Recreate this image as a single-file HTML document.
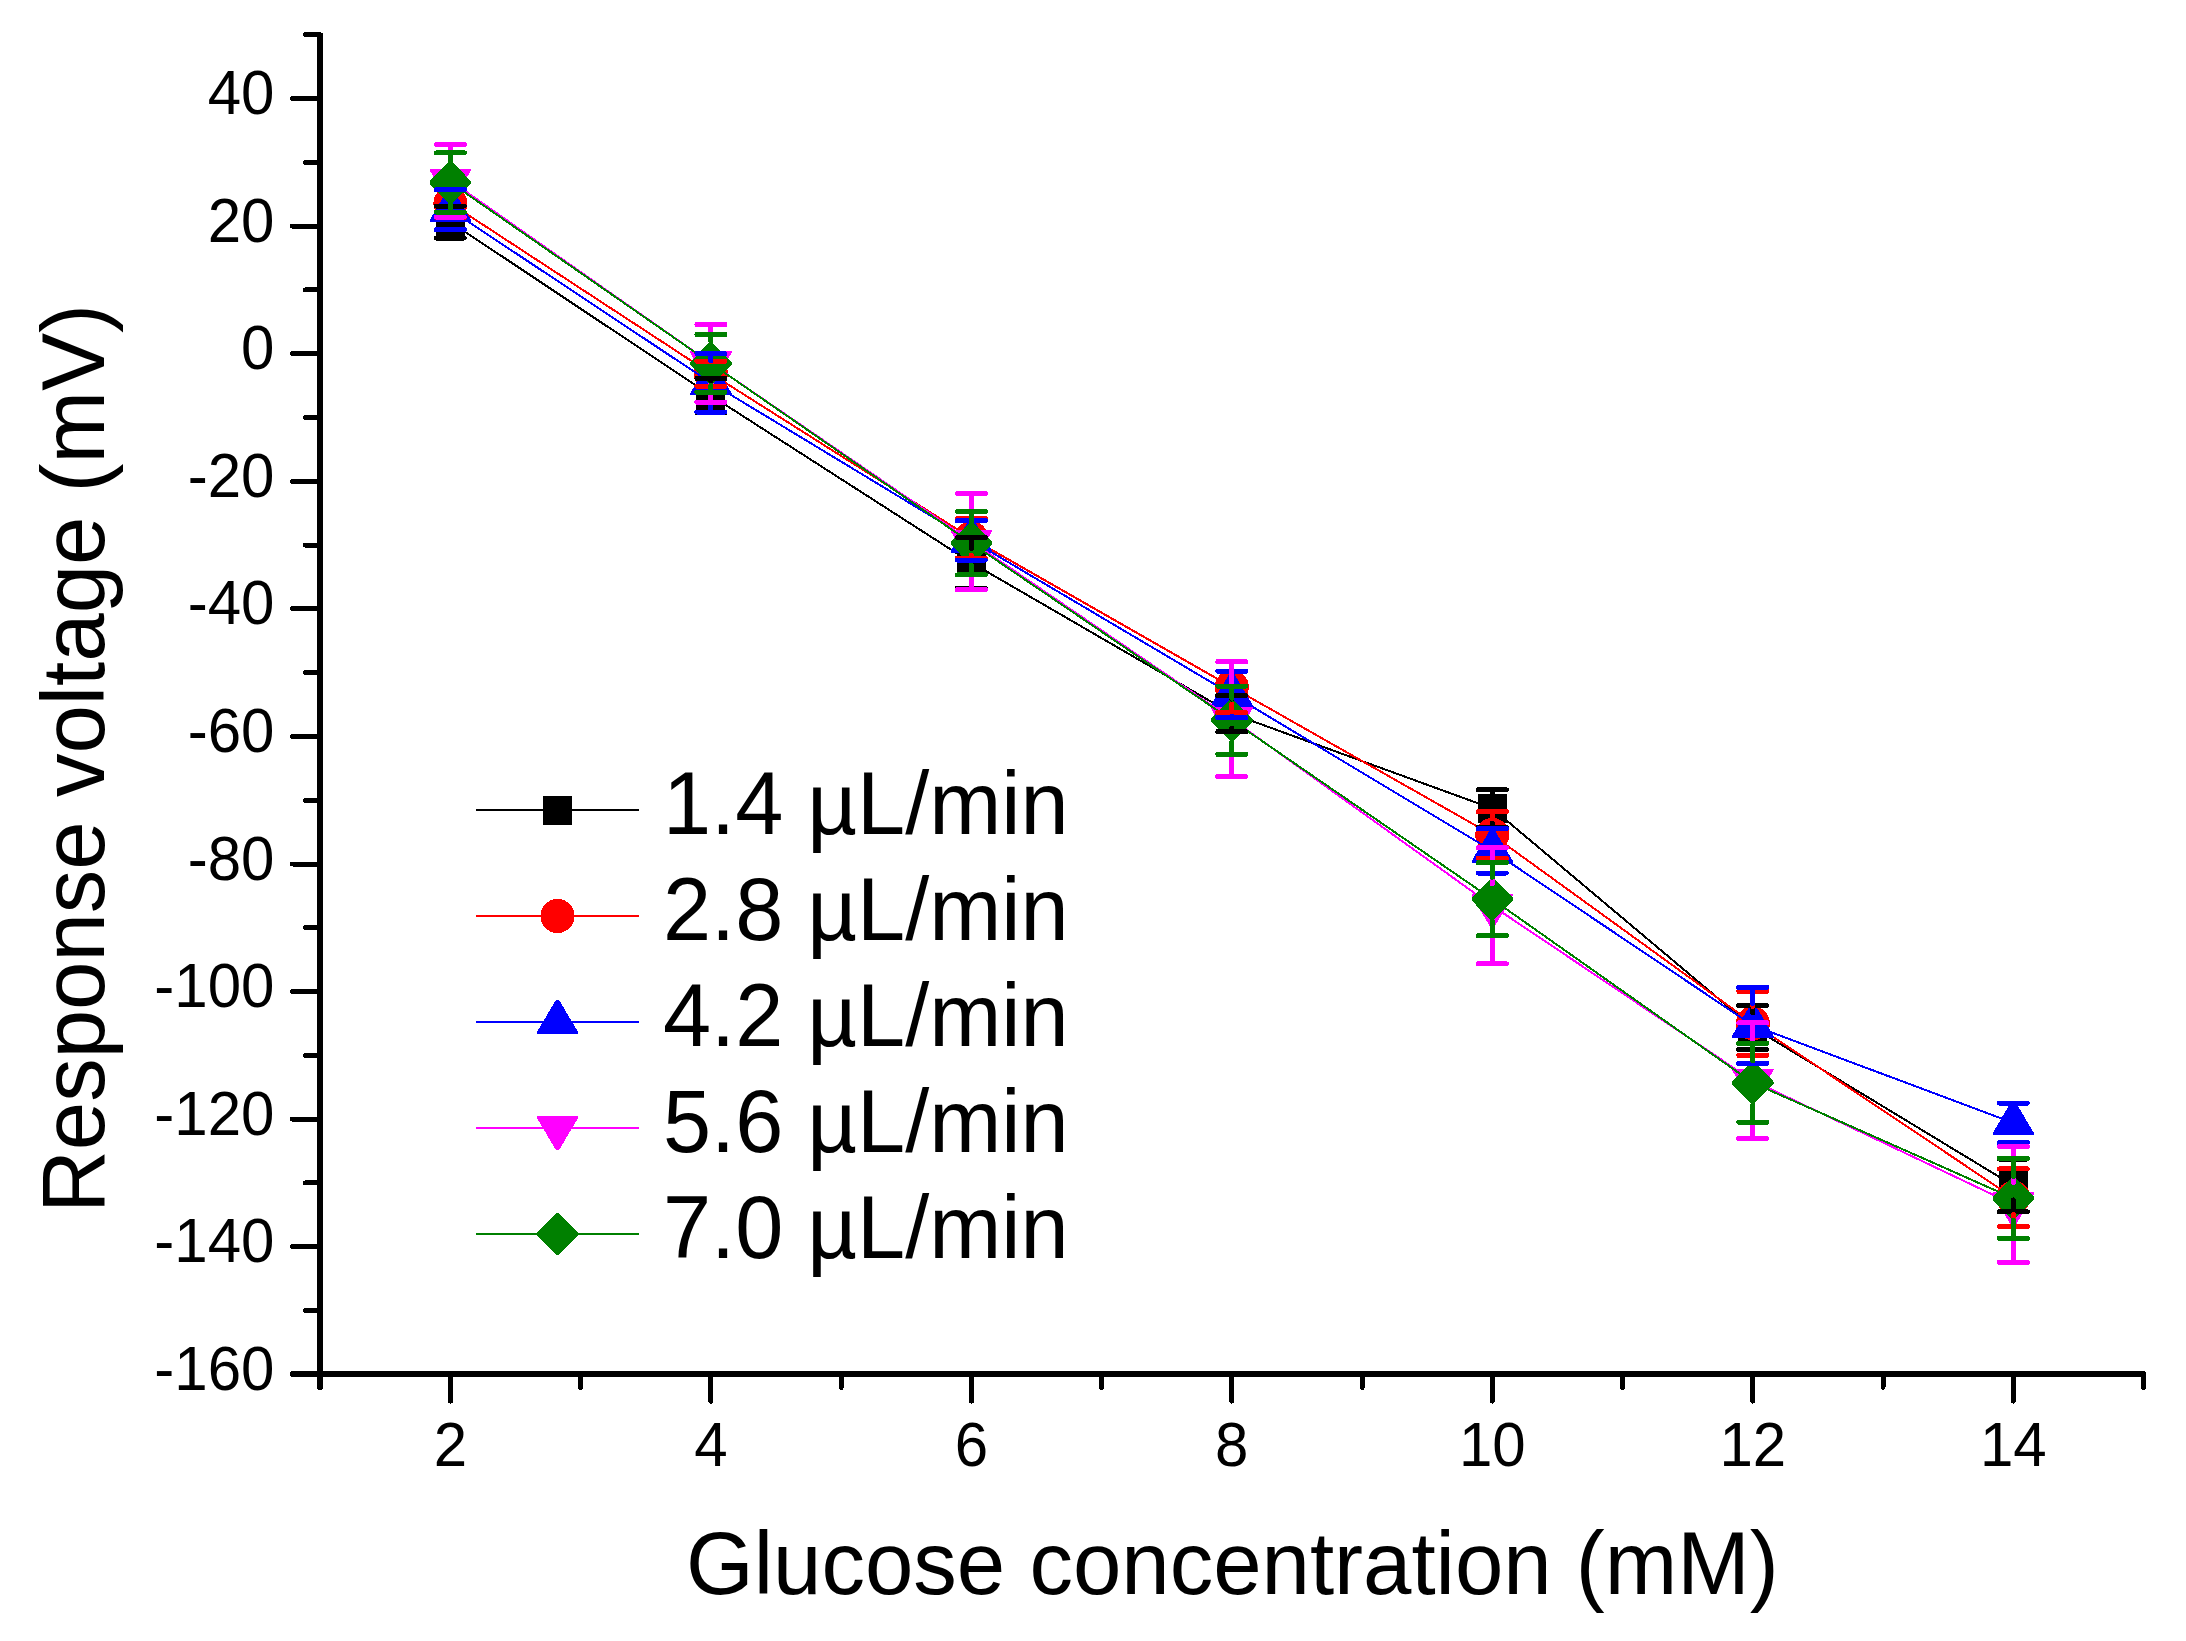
<!DOCTYPE html>
<html lang="en"><head><meta charset="utf-8"><title>Response voltage vs glucose concentration</title>
<style>html,body{margin:0;padding:0;background:#fff}svg{display:block}</style></head>
<body>
<svg width="2186" height="1641" viewBox="0 0 2186 1641" font-family="'Liberation Sans', sans-serif" fill="#000">
<rect width="2186" height="1641" fill="#fff"/>
<g stroke="#000" stroke-width="6" stroke-linecap="round" fill="none" shape-rendering="crispEdges">
<line x1="320.0" y1="35.3" x2="320.0" y2="1386.9"/>
<line x1="293" y1="1374.1" x2="2143.0" y2="1374.1"/>
</g>
<g stroke="#000" stroke-width="5" stroke-linecap="round" fill="none" shape-rendering="crispEdges">
<line x1="305.5" y1="34.8" x2="320.0" y2="34.8"/>
<line x1="292.5" y1="98.6" x2="320.0" y2="98.6"/>
<line x1="305.5" y1="162.3" x2="320.0" y2="162.3"/>
<line x1="292.5" y1="226.1" x2="320.0" y2="226.1"/>
<line x1="305.5" y1="289.9" x2="320.0" y2="289.9"/>
<line x1="292.5" y1="353.7" x2="320.0" y2="353.7"/>
<line x1="305.5" y1="417.5" x2="320.0" y2="417.5"/>
<line x1="292.5" y1="481.3" x2="320.0" y2="481.3"/>
<line x1="305.5" y1="545.1" x2="320.0" y2="545.1"/>
<line x1="292.5" y1="608.8" x2="320.0" y2="608.8"/>
<line x1="305.5" y1="672.6" x2="320.0" y2="672.6"/>
<line x1="292.5" y1="736.4" x2="320.0" y2="736.4"/>
<line x1="305.5" y1="800.2" x2="320.0" y2="800.2"/>
<line x1="292.5" y1="864.0" x2="320.0" y2="864.0"/>
<line x1="305.5" y1="927.8" x2="320.0" y2="927.8"/>
<line x1="292.5" y1="991.5" x2="320.0" y2="991.5"/>
<line x1="305.5" y1="1055.3" x2="320.0" y2="1055.3"/>
<line x1="292.5" y1="1119.1" x2="320.0" y2="1119.1"/>
<line x1="305.5" y1="1182.9" x2="320.0" y2="1182.9"/>
<line x1="292.5" y1="1246.7" x2="320.0" y2="1246.7"/>
<line x1="305.5" y1="1310.5" x2="320.0" y2="1310.5"/>
<line x1="450.4" y1="1374.1" x2="450.4" y2="1401.1"/>
<line x1="580.7" y1="1374.1" x2="580.7" y2="1387.4"/>
<line x1="710.9" y1="1374.1" x2="710.9" y2="1401.1"/>
<line x1="841.1" y1="1374.1" x2="841.1" y2="1387.4"/>
<line x1="971.4" y1="1374.1" x2="971.4" y2="1401.1"/>
<line x1="1101.6" y1="1374.1" x2="1101.6" y2="1387.4"/>
<line x1="1231.8" y1="1374.1" x2="1231.8" y2="1401.1"/>
<line x1="1362.1" y1="1374.1" x2="1362.1" y2="1387.4"/>
<line x1="1492.3" y1="1374.1" x2="1492.3" y2="1401.1"/>
<line x1="1622.6" y1="1374.1" x2="1622.6" y2="1387.4"/>
<line x1="1752.8" y1="1374.1" x2="1752.8" y2="1401.1"/>
<line x1="1883.0" y1="1374.1" x2="1883.0" y2="1387.4"/>
<line x1="2013.3" y1="1374.1" x2="2013.3" y2="1401.1"/>
<line x1="2143.5" y1="1374.1" x2="2143.5" y2="1387.4"/>
</g>
<g font-size="60" text-anchor="end">
<text transform="translate(274.4,114.2) scale(1,1.04)">40</text>
<text transform="translate(274.4,241.7) scale(1,1.04)">20</text>
<text transform="translate(274.4,369.3) scale(1,1.04)">0</text>
<text transform="translate(274.4,496.9) scale(1,1.04)">-20</text>
<text transform="translate(274.4,624.4) scale(1,1.04)">-40</text>
<text transform="translate(274.4,752.0) scale(1,1.04)">-60</text>
<text transform="translate(274.4,879.6) scale(1,1.04)">-80</text>
<text transform="translate(274.4,1007.1) scale(1,1.04)">-100</text>
<text transform="translate(274.4,1134.7) scale(1,1.04)">-120</text>
<text transform="translate(274.4,1262.3) scale(1,1.04)">-140</text>
<text transform="translate(274.4,1389.9) scale(1,1.04)">-160</text>
</g>
<g font-size="60" text-anchor="middle">
<text transform="translate(450.4,1466.3) scale(1,1.04)">2</text>
<text transform="translate(710.9,1466.3) scale(1,1.04)">4</text>
<text transform="translate(971.4,1466.3) scale(1,1.04)">6</text>
<text transform="translate(1231.8,1466.3) scale(1,1.04)">8</text>
<text transform="translate(1492.3,1466.3) scale(1,1.04)">10</text>
<text transform="translate(1752.8,1466.3) scale(1,1.04)">12</text>
<text transform="translate(2013.3,1466.3) scale(1,1.04)">14</text>
</g>
<text transform="translate(1232.4,1594.2) scale(1,1.02)" font-size="87" text-anchor="middle">Glucose concentration (mM)</text>
<text transform="translate(104.2,758.5) rotate(-90) scale(1,1.02)" font-size="87" text-anchor="middle">Response voltage (mV)</text>
<g shape-rendering="crispEdges">
<path d="M450.4,222.0 L710.9,395.5 L971.4,562.7 L1231.8,713.6 L1492.3,808.5 L1752.8,1027.5 L2013.3,1185.4" stroke="#000000" stroke-width="2" fill="none"/>
<rect x="435.9" y="207.5" width="29" height="29" fill="#000000"/>
<rect x="696.4" y="381.0" width="29" height="29" fill="#000000"/>
<rect x="956.9" y="548.2" width="29" height="29" fill="#000000"/>
<rect x="1217.3" y="699.1" width="29" height="29" fill="#000000"/>
<rect x="1477.8" y="794.0" width="29" height="29" fill="#000000"/>
<rect x="1738.3" y="1013.0" width="29" height="29" fill="#000000"/>
<rect x="1998.8" y="1170.9" width="29" height="29" fill="#000000"/>
<path d="M450.4,203.4 L710.9,373.6 L971.4,538.3 L1231.8,687.1 L1492.3,834.9 L1752.8,1023.3 L2013.3,1197.7" stroke="#ff0000" stroke-width="2" fill="none"/>
<circle cx="450.4" cy="203.4" r="17.05" fill="#ff0000"/>
<circle cx="710.9" cy="373.6" r="17.05" fill="#ff0000"/>
<circle cx="971.4" cy="538.3" r="17.05" fill="#ff0000"/>
<circle cx="1231.8" cy="687.1" r="17.05" fill="#ff0000"/>
<circle cx="1492.3" cy="834.9" r="17.05" fill="#ff0000"/>
<circle cx="1752.8" cy="1023.3" r="17.05" fill="#ff0000"/>
<circle cx="2013.3" cy="1197.7" r="17.05" fill="#ff0000"/>
<path d="M450.4,209.8 L710.9,382.8 L971.4,540.4 L1231.8,694.4 L1492.3,850.8 L1752.8,1025.4 L2013.3,1122.9" stroke="#0000ff" stroke-width="2" fill="none"/>
<polygon points="448.9,187.6 451.9,187.6 471.2,220.3 471.2,221.9 429.6,221.9 429.6,220.3" fill="#0000ff"/>
<polygon points="709.4,360.6 712.4,360.6 731.7,393.3 731.7,394.9 690.1,394.9 690.1,393.3" fill="#0000ff"/>
<polygon points="969.9,518.2 972.9,518.2 992.2,550.9 992.2,552.5 950.6,552.5 950.6,550.9" fill="#0000ff"/>
<polygon points="1230.3,672.2 1233.3,672.2 1252.6,704.9 1252.6,706.5 1211.0,706.5 1211.0,704.9" fill="#0000ff"/>
<polygon points="1490.8,828.6 1493.8,828.6 1513.1,861.3 1513.1,862.9 1471.5,862.9 1471.5,861.3" fill="#0000ff"/>
<polygon points="1751.3,1003.2 1754.3,1003.2 1773.6,1035.9 1773.6,1037.5 1732.0,1037.5 1732.0,1035.9" fill="#0000ff"/>
<polygon points="2011.8,1100.7 2014.8,1100.7 2034.1,1133.4 2034.1,1135.0 1992.5,1135.0 1992.5,1133.4" fill="#0000ff"/>
<path d="M450.4,180.7 L710.9,363.3 L971.4,541.6 L1231.8,719.1 L1492.3,905.8 L1752.8,1080.7 L2013.3,1204.4" stroke="#ff00ff" stroke-width="2" fill="none"/>
<polygon points="448.9,202.9 451.9,202.9 471.2,170.2 471.2,168.6 429.6,168.6 429.6,170.2" fill="#ff00ff"/>
<polygon points="709.4,385.5 712.4,385.5 731.7,352.8 731.7,351.2 690.1,351.2 690.1,352.8" fill="#ff00ff"/>
<polygon points="969.9,563.8 972.9,563.8 992.2,531.1 992.2,529.5 950.6,529.5 950.6,531.1" fill="#ff00ff"/>
<polygon points="1230.3,741.3 1233.3,741.3 1252.6,708.6 1252.6,707.0 1211.0,707.0 1211.0,708.6" fill="#ff00ff"/>
<polygon points="1490.8,928.0 1493.8,928.0 1513.1,895.3 1513.1,893.7 1471.5,893.7 1471.5,895.3" fill="#ff00ff"/>
<polygon points="1751.3,1102.9 1754.3,1102.9 1773.6,1070.2 1773.6,1068.6 1732.0,1068.6 1732.0,1070.2" fill="#ff00ff"/>
<polygon points="2011.8,1226.6 2014.8,1226.6 2034.1,1193.9 2034.1,1192.3 1992.5,1192.3 1992.5,1193.9" fill="#ff00ff"/>
<path d="M450.4,182.5 L710.9,363.3 L971.4,543.2 L1231.8,720.2 L1492.3,899.2 L1752.8,1082.8 L2013.3,1198.3" stroke="#008000" stroke-width="2" fill="none"/>
<polygon points="449.2,161.3 451.6,161.3 471.2,181.3 471.2,183.7 451.6,203.7 449.2,203.7 429.6,183.7 429.6,181.3" fill="#008000"/>
<polygon points="709.7,342.1 712.1,342.1 731.7,362.1 731.7,364.5 712.1,384.5 709.7,384.5 690.1,364.5 690.1,362.1" fill="#008000"/>
<polygon points="970.2,522.0 972.6,522.0 992.2,542.0 992.2,544.4 972.6,564.4 970.2,564.4 950.6,544.4 950.6,542.0" fill="#008000"/>
<polygon points="1230.6,699.0 1233.0,699.0 1252.6,719.0 1252.6,721.4 1233.0,741.4 1230.6,741.4 1211.0,721.4 1211.0,719.0" fill="#008000"/>
<polygon points="1491.1,878.0 1493.5,878.0 1513.1,898.0 1513.1,900.4 1493.5,920.4 1491.1,920.4 1471.5,900.4 1471.5,898.0" fill="#008000"/>
<polygon points="1751.6,1061.6 1754.0,1061.6 1773.6,1081.6 1773.6,1084.0 1754.0,1104.0 1751.6,1104.0 1732.0,1084.0 1732.0,1081.6" fill="#008000"/>
<polygon points="2012.1,1177.1 2014.5,1177.1 2034.1,1197.1 2034.1,1199.5 2014.5,1219.5 2012.1,1219.5 1992.5,1199.5 1992.5,1197.1" fill="#008000"/>
<g stroke="#000000" stroke-width="5" fill="none" stroke-linecap="round"><line x1="436.4" y1="206.0" x2="464.4" y2="206.0"/><line x1="436.4" y1="238.0" x2="464.4" y2="238.0"/><line x1="450.4" y1="206.0" x2="450.4" y2="207.5"/><line x1="450.4" y1="236.5" x2="450.4" y2="238.0"/><line x1="696.9" y1="378.5" x2="724.9" y2="378.5"/><line x1="696.9" y1="412.5" x2="724.9" y2="412.5"/><line x1="710.9" y1="378.5" x2="710.9" y2="381.0"/><line x1="710.9" y1="410.0" x2="710.9" y2="412.5"/><line x1="957.4" y1="537.4" x2="985.4" y2="537.4"/><line x1="957.4" y1="588.0" x2="985.4" y2="588.0"/><line x1="971.4" y1="537.4" x2="971.4" y2="548.2"/><line x1="971.4" y1="577.2" x2="971.4" y2="588.0"/><line x1="1217.8" y1="695.5" x2="1245.8" y2="695.5"/><line x1="1217.8" y1="731.7" x2="1245.8" y2="731.7"/><line x1="1231.8" y1="695.5" x2="1231.8" y2="699.1"/><line x1="1231.8" y1="728.1" x2="1231.8" y2="731.7"/><line x1="1478.3" y1="789.8" x2="1506.3" y2="789.8"/><line x1="1478.3" y1="827.2" x2="1506.3" y2="827.2"/><line x1="1492.3" y1="789.8" x2="1492.3" y2="794.0"/><line x1="1492.3" y1="823.0" x2="1492.3" y2="827.2"/><line x1="1738.8" y1="1005.5" x2="1766.8" y2="1005.5"/><line x1="1738.8" y1="1049.5" x2="1766.8" y2="1049.5"/><line x1="1752.8" y1="1005.5" x2="1752.8" y2="1013.0"/><line x1="1752.8" y1="1042.0" x2="1752.8" y2="1049.5"/><line x1="1999.3" y1="1159.0" x2="2027.3" y2="1159.0"/><line x1="1999.3" y1="1211.8" x2="2027.3" y2="1211.8"/><line x1="2013.3" y1="1159.0" x2="2013.3" y2="1170.9"/><line x1="2013.3" y1="1199.9" x2="2013.3" y2="1211.8"/></g>
<g stroke="#ff0000" stroke-width="5" fill="none" stroke-linecap="round"><line x1="436.4" y1="189.4" x2="464.4" y2="189.4"/><line x1="436.4" y1="217.4" x2="464.4" y2="217.4"/><line x1="696.9" y1="361.1" x2="724.9" y2="361.1"/><line x1="696.9" y1="386.1" x2="724.9" y2="386.1"/><line x1="957.4" y1="518.4" x2="985.4" y2="518.4"/><line x1="957.4" y1="558.2" x2="985.4" y2="558.2"/><line x1="971.4" y1="518.4" x2="971.4" y2="521.3"/><line x1="971.4" y1="555.3" x2="971.4" y2="558.2"/><line x1="1217.8" y1="661.7" x2="1245.8" y2="661.7"/><line x1="1217.8" y1="712.5" x2="1245.8" y2="712.5"/><line x1="1231.8" y1="661.7" x2="1231.8" y2="670.1"/><line x1="1231.8" y1="704.1" x2="1231.8" y2="712.5"/><line x1="1478.3" y1="811.6" x2="1506.3" y2="811.6"/><line x1="1478.3" y1="858.2" x2="1506.3" y2="858.2"/><line x1="1492.3" y1="811.6" x2="1492.3" y2="817.9"/><line x1="1492.3" y1="851.9" x2="1492.3" y2="858.2"/><line x1="1738.8" y1="991.3" x2="1766.8" y2="991.3"/><line x1="1738.8" y1="1055.3" x2="1766.8" y2="1055.3"/><line x1="1752.8" y1="991.3" x2="1752.8" y2="1006.3"/><line x1="1752.8" y1="1040.3" x2="1752.8" y2="1055.3"/><line x1="1999.3" y1="1168.9" x2="2027.3" y2="1168.9"/><line x1="1999.3" y1="1226.5" x2="2027.3" y2="1226.5"/><line x1="2013.3" y1="1168.9" x2="2013.3" y2="1180.7"/><line x1="2013.3" y1="1214.7" x2="2013.3" y2="1226.5"/></g>
<g stroke="#0000ff" stroke-width="5" fill="none" stroke-linecap="round"><line x1="436.4" y1="189.8" x2="464.4" y2="189.8"/><line x1="436.4" y1="229.8" x2="464.4" y2="229.8"/><line x1="696.9" y1="353.6" x2="724.9" y2="353.6"/><line x1="696.9" y1="412.0" x2="724.9" y2="412.0"/><line x1="710.9" y1="353.6" x2="710.9" y2="360.8"/><line x1="710.9" y1="404.8" x2="710.9" y2="412.0"/><line x1="957.4" y1="520.8" x2="985.4" y2="520.8"/><line x1="957.4" y1="560.0" x2="985.4" y2="560.0"/><line x1="1217.8" y1="671.2" x2="1245.8" y2="671.2"/><line x1="1217.8" y1="717.6" x2="1245.8" y2="717.6"/><line x1="1231.8" y1="671.2" x2="1231.8" y2="672.4"/><line x1="1231.8" y1="716.4" x2="1231.8" y2="717.6"/><line x1="1478.3" y1="828.6" x2="1506.3" y2="828.6"/><line x1="1478.3" y1="873.0" x2="1506.3" y2="873.0"/><line x1="1492.3" y1="828.6" x2="1492.3" y2="828.8"/><line x1="1492.3" y1="872.8" x2="1492.3" y2="873.0"/><line x1="1738.8" y1="987.4" x2="1766.8" y2="987.4"/><line x1="1738.8" y1="1063.4" x2="1766.8" y2="1063.4"/><line x1="1752.8" y1="987.4" x2="1752.8" y2="1003.4"/><line x1="1752.8" y1="1047.4" x2="1752.8" y2="1063.4"/><line x1="1999.3" y1="1103.1" x2="2027.3" y2="1103.1"/><line x1="1999.3" y1="1142.7" x2="2027.3" y2="1142.7"/></g>
<g stroke="#ff00ff" stroke-width="5" fill="none" stroke-linecap="round"><line x1="436.4" y1="144.4" x2="464.4" y2="144.4"/><line x1="436.4" y1="217.0" x2="464.4" y2="217.0"/><line x1="450.4" y1="144.4" x2="450.4" y2="158.7"/><line x1="450.4" y1="205.4" x2="450.4" y2="217.0"/><line x1="696.9" y1="324.5" x2="724.9" y2="324.5"/><line x1="696.9" y1="402.1" x2="724.9" y2="402.1"/><line x1="710.9" y1="324.5" x2="710.9" y2="341.3"/><line x1="710.9" y1="388.0" x2="710.9" y2="402.1"/><line x1="957.4" y1="493.4" x2="985.4" y2="493.4"/><line x1="957.4" y1="589.8" x2="985.4" y2="589.8"/><line x1="971.4" y1="493.4" x2="971.4" y2="519.6"/><line x1="971.4" y1="566.3" x2="971.4" y2="589.8"/><line x1="1217.8" y1="661.7" x2="1245.8" y2="661.7"/><line x1="1217.8" y1="776.5" x2="1245.8" y2="776.5"/><line x1="1231.8" y1="661.7" x2="1231.8" y2="697.1"/><line x1="1231.8" y1="743.8" x2="1231.8" y2="776.5"/><line x1="1478.3" y1="847.8" x2="1506.3" y2="847.8"/><line x1="1478.3" y1="963.8" x2="1506.3" y2="963.8"/><line x1="1492.3" y1="847.8" x2="1492.3" y2="883.8"/><line x1="1492.3" y1="930.5" x2="1492.3" y2="963.8"/><line x1="1738.8" y1="1022.9" x2="1766.8" y2="1022.9"/><line x1="1738.8" y1="1138.5" x2="1766.8" y2="1138.5"/><line x1="1752.8" y1="1022.9" x2="1752.8" y2="1058.7"/><line x1="1752.8" y1="1105.4" x2="1752.8" y2="1138.5"/><line x1="1999.3" y1="1146.5" x2="2027.3" y2="1146.5"/><line x1="1999.3" y1="1262.3" x2="2027.3" y2="1262.3"/><line x1="2013.3" y1="1146.5" x2="2013.3" y2="1182.4"/><line x1="2013.3" y1="1229.1" x2="2013.3" y2="1262.3"/></g>
<g stroke="#008000" stroke-width="5" fill="none" stroke-linecap="round"><line x1="436.4" y1="152.9" x2="464.4" y2="152.9"/><line x1="436.4" y1="212.1" x2="464.4" y2="212.1"/><line x1="450.4" y1="152.9" x2="450.4" y2="160.5"/><line x1="450.4" y1="204.5" x2="450.4" y2="212.1"/><line x1="696.9" y1="334.5" x2="724.9" y2="334.5"/><line x1="696.9" y1="392.1" x2="724.9" y2="392.1"/><line x1="710.9" y1="334.5" x2="710.9" y2="341.3"/><line x1="710.9" y1="385.3" x2="710.9" y2="392.1"/><line x1="957.4" y1="511.5" x2="985.4" y2="511.5"/><line x1="957.4" y1="574.9" x2="985.4" y2="574.9"/><line x1="971.4" y1="511.5" x2="971.4" y2="521.2"/><line x1="971.4" y1="565.2" x2="971.4" y2="574.9"/><line x1="1217.8" y1="686.1" x2="1245.8" y2="686.1"/><line x1="1217.8" y1="754.3" x2="1245.8" y2="754.3"/><line x1="1231.8" y1="686.1" x2="1231.8" y2="698.2"/><line x1="1231.8" y1="742.2" x2="1231.8" y2="754.3"/><line x1="1478.3" y1="862.7" x2="1506.3" y2="862.7"/><line x1="1478.3" y1="935.7" x2="1506.3" y2="935.7"/><line x1="1492.3" y1="862.7" x2="1492.3" y2="877.2"/><line x1="1492.3" y1="921.2" x2="1492.3" y2="935.7"/><line x1="1738.8" y1="1043.4" x2="1766.8" y2="1043.4"/><line x1="1738.8" y1="1122.2" x2="1766.8" y2="1122.2"/><line x1="1752.8" y1="1043.4" x2="1752.8" y2="1060.8"/><line x1="1752.8" y1="1104.8" x2="1752.8" y2="1122.2"/><line x1="1999.3" y1="1158.3" x2="2027.3" y2="1158.3"/><line x1="1999.3" y1="1238.3" x2="2027.3" y2="1238.3"/><line x1="2013.3" y1="1158.3" x2="2013.3" y2="1176.3"/><line x1="2013.3" y1="1220.3" x2="2013.3" y2="1238.3"/></g>
<line x1="476" y1="810" x2="639" y2="810" stroke="#000000" stroke-width="2"/>
<rect x="543.0" y="795.9" width="29" height="29" fill="#000000"/>
<line x1="476" y1="916" x2="639" y2="916" stroke="#ff0000" stroke-width="2"/>
<circle cx="557.5" cy="916.0" r="17.05" fill="#ff0000"/>
<line x1="476" y1="1022" x2="639" y2="1022" stroke="#0000ff" stroke-width="2"/>
<polygon points="556.0,999.8 559.0,999.8 578.3,1032.5 578.3,1034.1 536.7,1034.1 536.7,1032.5" fill="#0000ff"/>
<line x1="476" y1="1128" x2="639" y2="1128" stroke="#ff00ff" stroke-width="2"/>
<polygon points="556.0,1150.2 559.0,1150.2 578.3,1117.5 578.3,1115.9 536.7,1115.9 536.7,1117.5" fill="#ff00ff"/>
<line x1="476" y1="1234" x2="639" y2="1234" stroke="#008000" stroke-width="2"/>
<polygon points="556.3,1212.8 558.7,1212.8 578.3,1232.8 578.3,1235.2 558.7,1255.2 556.3,1255.2 536.7,1235.2 536.7,1232.8" fill="#008000"/>
</g>
<g font-size="86.5">
<text transform="translate(663,833.9) scale(1,1.02)">1.4 µL/min</text>
<text transform="translate(663,939.9) scale(1,1.02)">2.8 µL/min</text>
<text transform="translate(663,1045.9) scale(1,1.02)">4.2 µL/min</text>
<text transform="translate(663,1151.9) scale(1,1.02)">5.6 µL/min</text>
<text transform="translate(663,1257.9) scale(1,1.02)">7.0 µL/min</text>
</g>
</svg>
</body></html>
